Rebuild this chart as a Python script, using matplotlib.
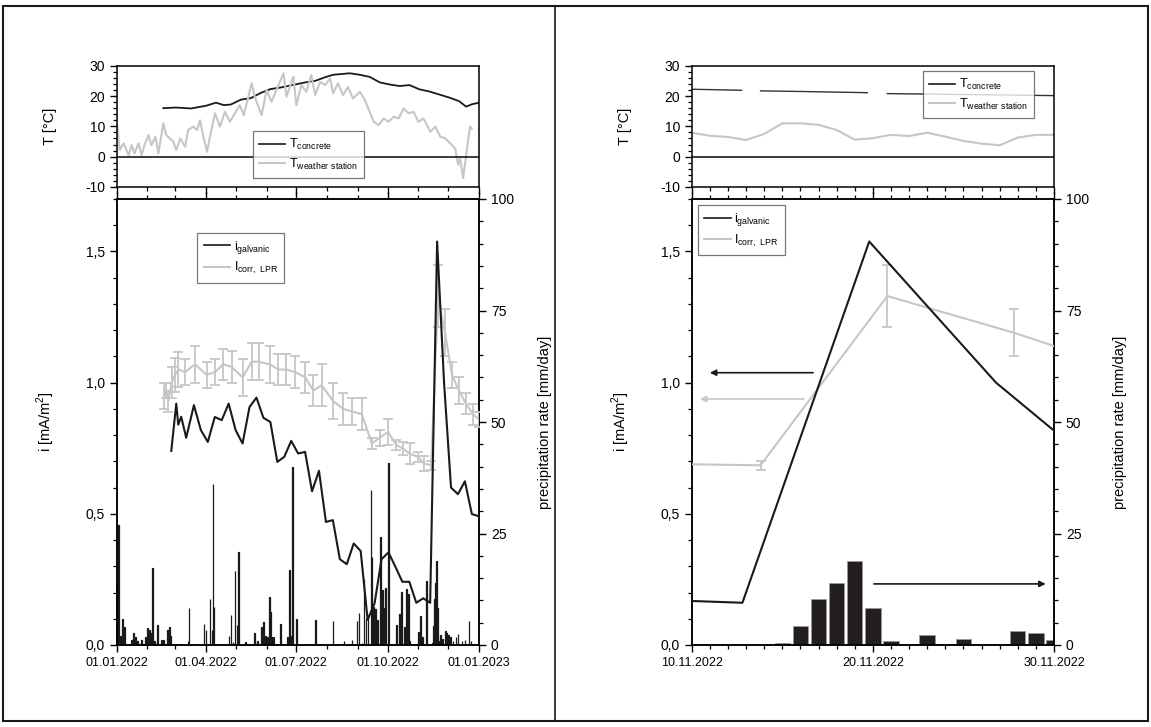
import numpy as np
import pandas as pd
import matplotlib
matplotlib.use("Agg")
import matplotlib.pyplot as plt
import matplotlib.dates as mdates
from matplotlib.ticker import MultipleLocator, FuncFormatter
from matplotlib.lines import Line2D
from matplotlib.patches import Rectangle

plt.rcParams['font.family'] = ['Liberation Sans', 'DejaVu Sans']
plt.rcParams['mathtext.fontset'] = 'custom'
plt.rcParams['mathtext.rm'] = 'Liberation Sans'
plt.rcParams['axes.unicode_minus'] = False
plt.rcParams['font.size'] = 10

# ---------------- data (days counted from 01.01.2022) ----------------
# weather station temperature
tw_day = [0.6, 3, 7, 12, 15, 18, 22, 25, 28, 32, 35, 39, 42, 47, 50, 57, 60, 64, 69, 72,
          77, 81, 84, 87, 91, 94, 99, 104, 109, 114, 119, 124, 128, 136, 139, 146, 151, 156,
          163, 168, 171, 178, 181, 186, 191, 196, 200, 205, 210, 215, 218, 223, 228, 233,
          238, 245, 250, 259, 264, 269, 274, 279, 284, 289, 294, 299, 304, 309, 316, 321,
          326, 331, 336, 341, 344, 346, 349, 352.5, 356, 357.6]
tw_val = [10.4, 2.2, 4.4, 0.5, 3.8, 1.1, 4.4, 0.5, 3.8, 7.1, 3.8, 6.6, 1.1, 11.0, 7.1, 5.0,
          2.2, 6.0, 3.3, 8.8, 9.9, 8.8, 12.0, 7.1, 1.6, 6.6, 14.3, 9.9, 14.8, 11.5, 14.3, 17.0,
          13.7, 24.2, 19.8, 13.7, 22.0, 18.1, 23.6, 27.5, 19.8, 26.4, 17.0, 23.6, 21.4, 26.9,
          20.3, 24.7, 23.6, 25.8, 20.9, 24.2, 20.3, 23.0, 19.2, 21.4, 18.7, 11.5, 10.4, 12.6,
          11.5, 13.2, 12.6, 15.9, 14.3, 14.8, 11.5, 12.6, 8.2, 9.9, 6.6, 6.0, 4.4, 2.7, -2.7,
          -0.5, -7.1, 1.6, 9.9, 9.3]

# concrete temperature
tc_day = [47, 60, 75, 90, 100, 108, 115, 125, 135, 145, 155, 165, 180, 190, 200, 210, 218,
          228, 235, 245, 255, 265, 275, 285, 295, 305, 315, 325, 335, 345, 352, 358, 365]
tc_val = [16.0, 16.2, 15.9, 16.8, 17.8, 17.0, 17.2, 18.8, 19.3, 21.0, 22.3, 22.8, 23.8, 24.5,
          25.0, 26.2, 27.0, 27.3, 27.5, 27.0, 26.3, 24.5, 23.8, 23.3, 23.6, 22.2, 21.5, 20.5,
          19.5, 18.3, 16.5, 17.3, 17.8]

# galvanic current (mA/m2)
ig_day = [55, 60, 62, 65, 70] + [77.8 + 7 * k for k in range(42)]
ig_val = [0.74, 0.92, 0.84, 0.87, 0.79,
          0.914, 0.819, 0.774, 0.869, 0.857, 0.92, 0.819, 0.768, 0.907, 0.943,
          0.866, 0.85, 0.698, 0.717, 0.778, 0.730, 0.736, 0.586, 0.664, 0.469,
          0.476, 0.327, 0.308, 0.387, 0.358, 0.096, 0.159, 0.327, 0.353, 0.298,
          0.241, 0.241, 0.161, 0.178, 0.161, 1.538, 1.0, 0.60, 0.575, 0.624,
          0.499, 0.491]

# LPR corrosion current with error
lpr_day = [48, 50, 52, 55.4, 58.8, 62.1, 68.8, 78.9, 90.6, 99, 107.4, 115.8, 126.9, 136, 143,
           154, 163, 171, 180, 190, 198, 206.5, 218, 228, 237, 247, 257, 265, 273.3, 281.7,
           288.4, 295, 303.4, 309.8, 316.8, 323.8, 330.8, 337.8, 344.8, 351.8, 358.8, 365]
lpr_val = [0.95, 0.97, 0.93, 1.0, 1.03, 1.05, 1.04, 1.07, 1.03, 1.04, 1.07, 1.06, 1.02, 1.08,
           1.08, 1.07, 1.05, 1.05, 1.04, 1.02, 0.97, 0.99, 0.93, 0.90, 0.89, 0.88, 0.768, 0.79,
           0.812, 0.762, 0.749, 0.730, 0.717, 0.692, 0.685, 1.33, 1.19, 1.03, 0.97, 0.92, 0.88,
           0.86]
lpr_err = [0.05, 0.03, 0.04, 0.06, 0.065, 0.065, 0.05, 0.07, 0.05, 0.05, 0.06, 0.06, 0.07,
           0.07, 0.07, 0.07, 0.06, 0.06, 0.06, 0.06, 0.06, 0.08, 0.07, 0.06, 0.05, 0.06, 0.022,
           0.03, 0.05, 0.02, 0.025, 0.04, 0.02, 0.03, 0.017, 0.118, 0.09, 0.05, 0.05, 0.04,
           0.04, 0.03]

# daily precipitation (mm/day)
rain_day = [1, 2, 4, 6, 8, 15, 17, 19, 21, 25, 29, 31, 33, 34, 36, 38, 41, 45, 47, 51, 53, 54,
            72, 73, 88, 90, 94, 96, 97, 98, 113, 115, 117, 119, 121, 123, 130, 139, 142, 146,
            148, 150, 152, 154, 155, 156, 158, 165, 172, 174, 175, 177, 181, 200, 218, 229,
            237, 242, 244, 247, 249, 251, 253, 256, 257, 259, 261, 263, 266, 268, 269, 271,
            274, 282, 285, 287, 290, 292, 294, 295, 304, 306, 308, 312,
            313, 314, 315, 316, 317, 318, 319, 320, 321, 322, 323, 324, 325, 326, 327, 328,
            329, 330, 331, 332, 333,
            334, 336, 339, 342, 344, 348, 351, 355, 357]
rain_mm = [13.8, 26.9, 2.0, 5.9, 4.1, 1.1, 2.6, 1.8, 0.8, 1.1, 1.8, 3.9, 3.3, 2.6, 17.2, 0.8,
           4.4, 1.1, 1.1, 3.4, 4.0, 2.0, 0.8, 8.4, 4.6, 3.4, 10.3, 3.3, 36.1, 8.6, 2.1, 6.8,
           0.6, 16.6, 4.5, 20.8, 0.7, 2.6, 0.8, 4.1, 5.1, 2.0, 1.8, 10.8, 7.5, 1.8, 1.8, 4.6,
           1.8, 16.9, 2.0, 40.0, 5.9, 5.7, 5.4, 0.8, 1.1, 5.4, 7.1, 0.5, 14.7, 6.0, 6.0, 34.8,
           19.8, 8.6, 8.0, 5.7, 24.3, 12.3, 8.4, 12.7, 40.9, 4.5, 7.0, 11.9, 4.0, 12.6, 11.5,
           1.0, 3.0, 6.5, 1.8, 14.4,
           0.1, 0.1, 0.1, 0.0, 0.0, 0.4, 4.25, 10.3, 13.9, 18.9, 8.2, 0.8, 0.15, 2.2, 0.15,
           1.3, 0.05, 0.0, 3.2, 2.8, 1.1,
           2.2, 1.8, 1.0, 1.8, 2.4, 1.0, 1.1, 5.4, 1.0]

# November detail: temperatures
tw_nov_day = list(range(313, 334))
tw_nov_val = [7.9, 6.9, 6.5, 5.5, 7.5, 11.0, 11.0, 10.5, 8.8, 5.6, 6.1, 7.2, 6.8, 7.9, 6.6,
              5.2, 4.3, 3.75, 6.3, 7.2, 7.2]
tc_nov_day = [312.5, 315.75, 316.2, 316.8, 319.0, 322.7, 323.2, 323.8, 328.0, 333.5]
tc_nov_val = [22.3, 21.9, np.nan, 21.7, 21.5, 21.1, np.nan, 20.8, 20.5, 20.1]

base = pd.Timestamp('2022-01-01')


def dates(days):
    return base + pd.to_timedelta(np.asarray(days, dtype=float), unit='D')


GREY = '#c6c6c6'
BLACK = '#1a1a1a'
comma = FuncFormatter(lambda v, p: ('%.1f' % v).replace('.', ','))

W, H = 1151, 727
fig = plt.figure(figsize=(W / 100, H / 100), dpi=100)


def frac(x0, y0, x1, y1):
    return [x0 / W, 1 - y1 / H, (x1 - x0) / W, (y1 - y0) / H]


def style_axes(ax):
    for s in ax.spines.values():
        s.set_linewidth(1.1)
    ax.tick_params(which='major', direction='out', length=5, width=1.0, labelsize=10)
    ax.tick_params(which='minor', direction='out', length=3, width=0.9)


panels = [
    dict(x0=116.7, x1=479, xlim=(base, pd.Timestamp('2023-01-01')), detail=False),
    dict(x0=691.7, x1=1054, xlim=(pd.Timestamp('2022-11-10'), pd.Timestamp('2022-11-30')), detail=True),
]

for p in panels:
    ax_t = fig.add_axes(frac(p['x0'], 65.7, p['x1'], 187))
    ax = fig.add_axes(frac(p['x0'], 199, p['x1'], 645))
    ax_r = ax.twinx()
    for a in (ax_t, ax, ax_r):
        style_axes(a)

    # temperature panel
    if p['detail']:
        ax_t.plot(dates(tc_nov_day), tc_nov_val, color='#333333', lw=1.0)
        ax_t.plot(dates(tw_nov_day), tw_nov_val, color=GREY, lw=1.5)
    else:
        ax_t.plot(dates(tc_day), tc_val, color=BLACK, lw=1.3)
        ax_t.plot(dates(tw_day), tw_val, color=GREY, lw=1.5)
    ax_t.axhline(0, color=BLACK, lw=1.2)
    ax_t.set_ylim(-10, 30)
    ax_t.yaxis.set_major_locator(MultipleLocator(10))
    ax_t.yaxis.set_minor_locator(MultipleLocator(2))
    ax_t.set_xlim(*p['xlim'])
    ax_t.tick_params(labelbottom=False)
    ax_t.set_ylabel('T [°C]', fontsize=10.5)
    ax_t.yaxis.set_label_coords(-0.165, 0.5)

    # currents
    ax.plot(dates(ig_day), ig_val, color=BLACK, lw=1.5, zorder=4)
    ax.errorbar(dates(lpr_day), lpr_val, yerr=lpr_err, color=GREY, lw=1.5,
                elinewidth=1.3, capsize=3.5, capthick=1.3, zorder=3)
    ax.set_ylim(0, 1.7)
    ax.yaxis.set_major_locator(MultipleLocator(0.5))
    ax.yaxis.set_minor_locator(MultipleLocator(0.1))
    ax.yaxis.set_major_formatter(comma)
    ax.set_xlim(*p['xlim'])
    ax.tick_params(which='both', top=True)
    ax.tick_params(axis='x', labelsize=9)
    ax.set_ylabel('i [mA/m$^2$]', fontsize=10.5)
    ax.yaxis.set_label_coords(-0.165, 0.5)

    # precipitation
    if p['detail']:
        ax_r.bar(dates(rain_day), rain_mm, width=0.85, color='#231f20',
                 edgecolor='#9a9a9a', linewidth=0.5)
    else:
        ax_r.bar(dates(rain_day), rain_mm, width=0.6, color=BLACK,
                 edgecolor=BLACK, linewidth=0.9)
    ax_r.set_ylim(0, 100)
    ax_r.yaxis.set_major_locator(MultipleLocator(25))
    ax_r.yaxis.set_minor_locator(MultipleLocator(5))
    ax_r.set_ylabel('precipitation rate [mm/day]', fontsize=10.5)
    ax_r.yaxis.set_label_coords(1.163, 0.5)
    ax.set_zorder(ax_r.get_zorder() + 1)
    ax.patch.set_visible(False)

    fmt = mdates.DateFormatter('%d.%m.%Y')
    if p['detail']:
        for a in (ax_t, ax):
            a.xaxis.set_major_locator(mdates.DayLocator(bymonthday=[10, 20, 30]))
            a.xaxis.set_minor_locator(mdates.DayLocator())
    else:
        for a in (ax_t, ax):
            a.xaxis.set_major_locator(mdates.MonthLocator(bymonth=[1, 4, 7, 10]))
            a.xaxis.set_minor_locator(mdates.MonthLocator())
    ax.xaxis.set_major_formatter(fmt)

    # legends
    hl = [Line2D([], [], color=BLACK, lw=1.2), Line2D([], [], color=GREY, lw=1.5)]
    leg_kw = dict(frameon=True, fancybox=False, borderaxespad=0, handlelength=2.1,
                  fontsize=9, labelspacing=0.35, borderpad=0.5, handletextpad=0.3)
    if p['detail']:
        lt = ax_t.legend(hl, [r'T$_{\rm concrete}$', r'T$_{\rm weather\ station}$'],
                         loc='upper left', bbox_to_anchor=(0.6376, 0.956), **leg_kw)
        lb = ax.legend(hl, [r'i$_{\rm galvanic}$', r'I$_{\rm corr,\ LPR}$'],
                       loc='upper left', bbox_to_anchor=(0.0174, 0.9865), **leg_kw)
    else:
        lt = ax_t.legend(hl, [r'T$_{\rm concrete}$', r'T$_{\rm weather\ station}$'],
                         loc='upper left', bbox_to_anchor=(0.375, 0.4617), **leg_kw)
        lb = ax.legend(hl, [r'i$_{\rm galvanic}$', r'I$_{\rm corr,\ LPR}$'],
                       loc='upper left', bbox_to_anchor=(0.2225, 0.9245), **leg_kw)
    for lg in (lt, lb):
        lg.get_frame().set_edgecolor('#555555')
        lg.get_frame().set_linewidth(0.9)

    if p['detail']:
        arr = dict(arrowstyle='-|>', lw=1.2, mutation_scale=9, shrinkA=0, shrinkB=0)
        ax.annotate('', xy=(0.05, 0.6105), xytext=(0.335, 0.6105), xycoords='axes fraction',
                    arrowprops=dict(color=BLACK, **arr))
        ax.annotate('', xy=(0.023, 0.5516), xytext=(0.31, 0.5516), xycoords='axes fraction',
                    arrowprops=dict(color=GREY, **arr))
        ax.annotate('', xy=(0.977, 0.137), xytext=(0.503, 0.137), xycoords='axes fraction',
                    arrowprops=dict(color=BLACK, **arr))

# outer frame and divider
fig.add_artist(Rectangle((3 / W, 1 - 721 / H), 1145 / W, 715 / H, transform=fig.transFigure,
                         fill=False, edgecolor=BLACK, lw=1.5))
fig.add_artist(Line2D([555 / W, 555 / W], [1 - 721 / H, 1 - 6 / H], transform=fig.transFigure,
                      color=BLACK, lw=1.2))

fig.savefig('out.png', dpi=100)
